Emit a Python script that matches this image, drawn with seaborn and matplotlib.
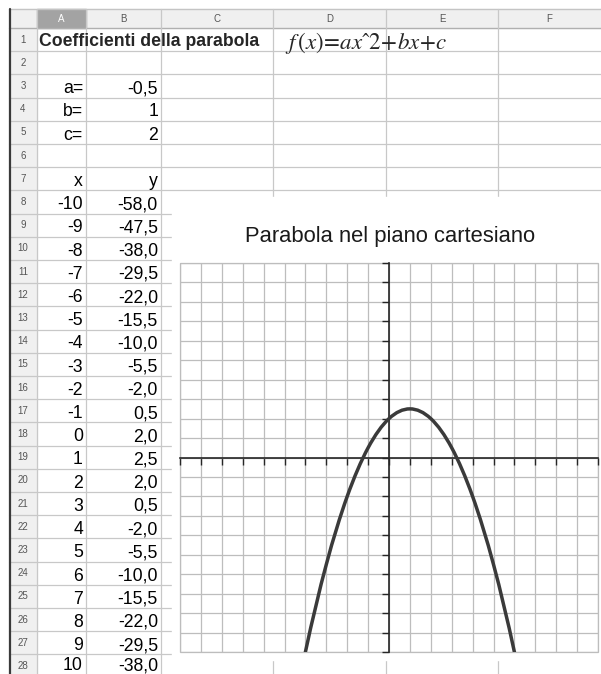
import numpy as np
import matplotlib.pyplot as plt
import seaborn as sns
from matplotlib.patches import Rectangle, PathPatch
from matplotlib.path import Path

sns.set_style("white")
plt.rcParams["font.family"] = ["Liberation Sans", "DejaVu Sans"]
plt.rcParams["mathtext.fontset"] = "stix"

# ---------- data (read from the spreadsheet) ----------
col_letters = ["A", "B", "C", "D", "E", "F"]
title_cell = "Coefficienti della parabola"
formula = r"$f\,(x)\!=\!ax\mathrm{ˆ}2\!+\!bx\!+\!c$"
coef_names = ["a=", "b=", "c="]
coef_values = [-0.5, 1, 2]
x_vals = [-10, -9, -8, -7, -6, -5, -4, -3, -2, -1, 0, 1, 2, 3, 4, 5, 6, 7, 8, 9, 10]
y_vals = [-58.0, -47.5, -38.0, -29.5, -22.0, -15.5, -10.0, -5.5, -2.0, 0.5, 2.0,
          2.5, 2.0, 0.5, -2.0, -5.5, -10.0, -15.5, -22.0, -29.5, -38.0]
chart_title = "Parabola nel piano cartesiano"

# ---------- sheet geometry (pixels) ----------
W, H = 601, 674
col_edges = [37, 86, 161, 273, 386, 498, 601]
head_top, row_top0, row_h, n_rows = 9, 28, 23.2, 28
chart_box = (172, 197, 601, 660)   # x0, y0, x1, y1
grid_col = "#c8c8c8"


def row_top(i):
    return row_top0 + (i - 1) * row_h


def comma(v):
    return str(v).replace(".", ",")


def smooth_path(xs, ys):
    # spline-style line through the data points (like the "smooth" line option)
    p = np.column_stack([xs, ys]).astype(float)
    verts, codes = [p[0]], [Path.MOVETO]
    for i in range(len(p) - 1):
        prev = p[i - 1] if i > 0 else p[i]
        nxt = p[i + 2] if i + 2 < len(p) else p[i + 1]
        verts += [p[i] + (p[i + 1] - prev) / 6, p[i + 1] - (nxt - p[i]) / 6, p[i + 1]]
        codes += [Path.CURVE4] * 3
    return Path(verts, codes)


fig = plt.figure(figsize=(W / 100, H / 100), dpi=100)
bg = fig.add_axes([0, 0, 1, 1])
bg.set_xlim(0, W)
bg.set_ylim(H, 0)
bg.axis("off")

# headers
bg.add_patch(Rectangle((9, head_top), W - 9, row_top0 - head_top, color="#f0f0f0", zorder=1))
bg.add_patch(Rectangle((9, row_top0), col_edges[0] - 9, H - row_top0, color="#f0f0f0", zorder=1))
bg.add_patch(Rectangle((col_edges[0], head_top), col_edges[1] - col_edges[0],
                       row_top0 - head_top, color="#a3a3a3", zorder=1))
bg.plot([9, W], [head_top, head_top], color="#c4c4c4", lw=1, zorder=2)
bg.plot([9, W], [row_top0, row_top0], color="#b0b0b0", lw=1, zorder=2)
bg.plot([9.5, 9.5], [head_top, H], color="#3a3a3a", lw=1.6, zorder=3)

for i, letter in enumerate(col_letters):
    cx = (col_edges[i] + col_edges[i + 1]) / 2
    bg.text(cx, 18.5, letter, ha="center", va="center", fontsize=7,
            color="white" if letter == "A" else "#555555", zorder=4)

# cell grid
for x in col_edges[:-1]:
    bg.plot([x, x], [head_top, H], color=grid_col, lw=0.9, zorder=2)
for i in range(2, n_rows + 2):
    y = row_top(i)
    bg.plot([9, W], [y, y], color=grid_col, lw=0.9, zorder=2)

for i in range(1, n_rows + 1):
    bg.text(23, row_top(i) + row_h / 2, str(i), ha="center", va="center",
            fontsize=7, color="#555555", zorder=4)

# chart object covers the grid
x0, y0, x1, y1 = chart_box
bg.add_patch(Rectangle((x0, y0), x1 - x0, y1 - y0, color="white", zorder=3))

# cell contents
txt = dict(fontsize=12.7, color="black", va="baseline", ha="right", zorder=4)
ax_r, bx_r = 83, 158
bg.text(39, 45.5, title_cell, fontsize=12.7, fontweight="bold", va="baseline", zorder=4)
bg.text(285, 49.5, formula, fontsize=16.5, va="baseline", zorder=4)
for k, (name, val) in enumerate(zip(coef_names, coef_values)):
    base = row_top(3 + k) + row_h - 4.3
    bg.text(ax_r, base, name, **txt)
    bg.text(bx_r, base, comma(val), **txt)
bg.text(ax_r, row_top(7) + row_h - 4.3, "x", **txt)
bg.text(bx_r, row_top(7) + row_h - 4.3, "y", **txt)
for k, (xv, yv) in enumerate(zip(x_vals, y_vals)):
    base = min(row_top(8 + k) + row_h - 4.3, H - 3.5)
    bg.text(ax_r, base, str(xv), **txt)
    bg.text(bx_r, base, comma(f"{yv:.1f}"), **txt)

# chart
bg.text(390, 241.7, chart_title, fontsize=15.8, color="#1a1a1a", ha="center",
        va="baseline", zorder=4)

ax = fig.add_axes([180 / W, (H - 652) / H, 418 / W, 389 / H])
ax.set_facecolor("white")
# seaborn sets up the data scales; the visible curve is drawn smoothed below
sns.lineplot(x=x_vals, y=y_vals, ax=ax, color="#3a3a3a", linewidth=0, zorder=5)
ax.add_patch(PathPatch(smooth_path(x_vals, y_vals), fill=False, ec="#3a3a3a",
                       lw=2.5, zorder=5, capstyle="butt"))
ax.set_xlim(-10, 10)
ax.set_ylim(-10, 10)
ax.set_xticks(np.arange(-10, 11))
ax.set_yticks(np.arange(-10, 11))
ax.grid(True, color="#bdbdbd", lw=0.9)
ax.set_axisbelow(True)
for side in ["top", "right"]:
    ax.spines[side].set_visible(False)
for side in ["left", "bottom"]:
    ax.spines[side].set_position(("data", 0))
    ax.spines[side].set_color("#262626")
    ax.spines[side].set_linewidth(1.2)
ax.tick_params(direction="out", length=5, width=1, colors="#262626",
               labelbottom=False, labelleft=False, bottom=True, left=True)
ax.add_patch(Rectangle((0, 0), 1, 1, transform=ax.transAxes, fill=False,
                       ec="#bdbdbd", lw=0.9, clip_on=False, zorder=0))
ax.set_xlabel("")
ax.set_ylabel("")

fig.savefig("out.png", dpi=100)
